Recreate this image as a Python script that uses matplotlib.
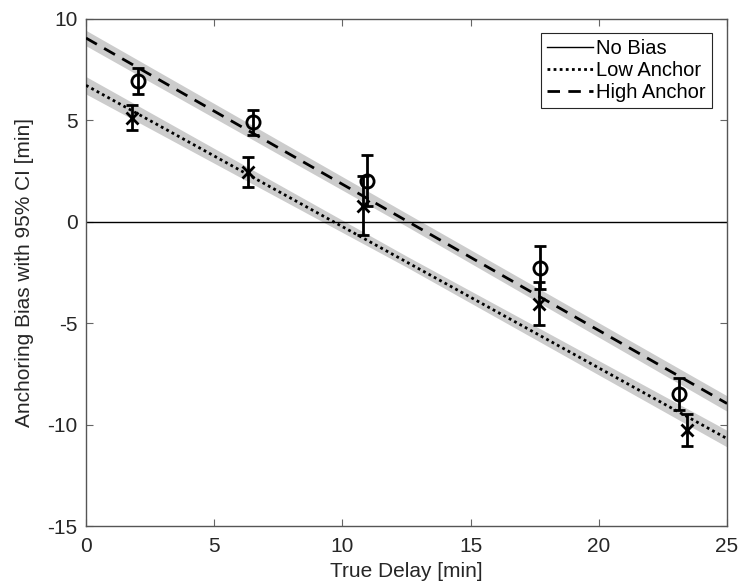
import numpy as np
import matplotlib
matplotlib.use("Agg")
from matplotlib import pyplot as plt

plt.rcParams['font.family'] = ['Liberation Sans', 'DejaVu Sans']
plt.rcParams['axes.unicode_minus'] = False

# fitted lines (value at x=0 and x=25)
fit_x = [0, 25]
high_fit = [9.06, -8.96]
low_fit = [6.73, -10.69]

# confidence bands (lower/upper) at x = 0, 12.5, 25
band_x = [0, 12.5, 25]
high_lo = [8.68, -0.22, -9.34]
high_hi = [9.44, 0.42, -8.58]
low_lo = [6.3, -2.23, -11.1]
low_hi = [7.16, -1.69, -10.28]

# measured means with 95% CI half-widths
high_x = [2.04, 6.5, 10.97, 17.71, 23.14]
high_y = [6.95, 4.9, 2.03, -2.26, -8.5]
high_err = [0.65, 0.62, 1.27, 1.06, 0.78]

low_x = [1.81, 6.31, 10.79, 17.67, 23.45]
low_y = [5.13, 2.47, 0.79, -4.03, -10.27]
low_err = [0.61, 0.73, 1.46, 1.04, 0.8]

fig = plt.figure(figsize=(7.43, 5.88), dpi=100)
ax = fig.add_axes([86 / 743, 1 - 526 / 588, 641 / 743, 507 / 588])

ax.fill_between(band_x, high_lo, high_hi, color='#cccccc', lw=0, zorder=1)
ax.fill_between(band_x, low_lo, low_hi, color='#cccccc', lw=0, zorder=1)

ax.axhline(0, color='black', lw=1, zorder=2, label='No Bias')
ax.plot(fit_x, low_fit, color='black', lw=2, linestyle=(0, (1, 1.2)), zorder=3, label='Low Anchor')
ax.plot(fit_x, high_fit, color='black', lw=2, linestyle=(0, (4.5, 3)), zorder=3, label='High Anchor')

ax.errorbar(high_x, high_y, yerr=high_err, fmt='o', color='black', mfc='none',
            ms=9.5, mew=2, elinewidth=2, capsize=4.5, capthick=2, zorder=4)
ax.errorbar(low_x, low_y, yerr=low_err, fmt='x', color='black',
            ms=8, mew=2, elinewidth=2, capsize=4.5, capthick=2, zorder=4)

ax.set_xlim(0, 25)
ax.set_ylim(-15, 10)
ax.set_xticks([0, 5, 10, 15, 20, 25])
ax.set_yticks([-15, -10, -5, 0, 5, 10])
ax.tick_params(direction='in', length=5, width=0.8, color='#666666', labelsize=15,
               top=True, right=True, labelcolor='#262626')
ax.tick_params(axis='x', pad=8)
ax.tick_params(axis='y', pad=6)
for s in ax.spines.values():
    s.set_color('#555555')
    s.set_linewidth(1)

ax.set_xlabel('True Delay [min]', fontsize=15, color='#262626', labelpad=4.5)
ax.set_ylabel('Anchoring Bias with 95% CI [min]', fontsize=15, color='#262626', labelpad=9.5)

leg = ax.legend(loc='upper right', bbox_to_anchor=(1 - 15 / 641, 1 - 14 / 507), fontsize=14.5,
                frameon=True, fancybox=False, edgecolor='#262626', framealpha=1,
                handlelength=2.3, handletextpad=0.15, borderpad=0.3, labelspacing=0.15,
                borderaxespad=0)
leg.get_frame().set_linewidth(0.8)

fig.savefig('out.png', dpi=100)
